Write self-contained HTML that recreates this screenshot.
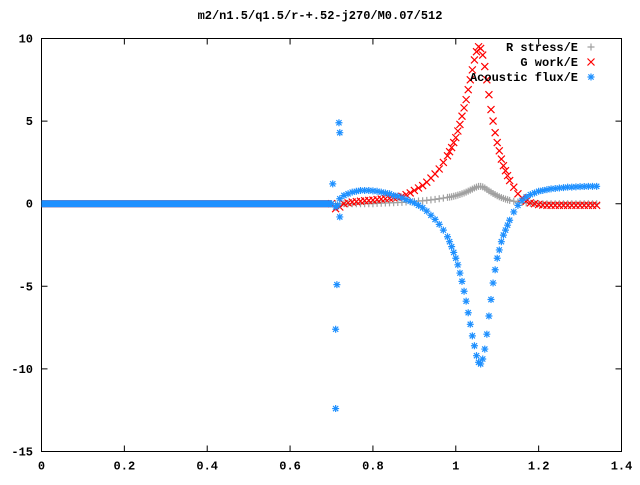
<!DOCTYPE html>
<html><head><meta charset="utf-8"><style>
body{margin:0;background:#fff}
svg text{font-family:"Liberation Mono",monospace;font-size:12px;font-weight:bold;fill:#000}
</style></head><body>
<svg id="chart" width="640" height="480" viewBox="0 0 640 480" xmlns="http://www.w3.org/2000/svg">
<rect width="640" height="480" fill="#fff"/>
<text x="320" y="19" text-anchor="middle">m2/n1.5/q1.5/r-+.52-j270/M0.07/512</text>
<g id="axes"></g>
<g id="marks"></g>
<g id="legend"></g>
</svg>
<script>
const xTicks=[0,0.2,0.4,0.6,0.8,1,1.2,1.4];
const xTickLabels=["0","0.2","0.4","0.6","0.8","1","1.2","1.4"];
const yTicks=[-15,-10,-5,0,5,10];
const yTickLabels=["-15","-10","-5","0","5","10"];
const seriesNames=["R stress/E","G work/E","Acoustic flux/E"];
const xsA=[0.70,0.71,0.72,0.73,0.74,0.75,0.76,0.77,0.78,0.79,0.80,0.81,0.82,0.83,0.84,0.85,0.86,0.87,0.88,0.89,0.90,0.91,0.92,0.93,0.94,0.95,0.96,0.97,0.98];
const xsB=[0.985,0.99,0.995,1.00,1.005,1.01,1.015,1.02,1.025,1.03,1.035,1.04,1.045,1.05,1.055,1.06,1.065,1.07,1.075,1.08,1.085,1.09,1.095,1.10,1.105,1.11,1.115,1.12,1.125,1.13];
const xsC=[1.14,1.15,1.16,1.17,1.18,1.19,1.20,1.21,1.22,1.23,1.24,1.25,1.26,1.27,1.28,1.29,1.30,1.31,1.32,1.33,1.34];
const stressA=[0,0,0,0,0,0,0,0,0,0,0,0.02,0.03,0.04,0.05,0.06,0.07,0.08,0.1,0.12,0.14,0.16,0.18,0.2,0.23,0.26,0.3,0.34,0.38];
const stressB=[0.4,0.42,0.45,0.48,0.52,0.56,0.6,0.65,0.7,0.76,0.82,0.88,0.95,1.0,1.05,1.05,1.02,0.95,0.87,0.78,0.7,0.62,0.55,0.48,0.42,0.37,0.32,0.28,0.24,0.2];
const stressC=[0.15,0.1,0.07,0.05,0.03,0.02,0.01,0,0,0,0,0,0,0,0,0,0,0,0,0,0];
const workA=[0,-0.3,-0.2,0,0.05,0.1,0.12,0.15,0.18,0.2,0.22,0.25,0.28,0.3,0.33,0.36,0.4,0.45,0.55,0.65,0.8,0.95,1.1,1.3,1.55,1.8,2.1,2.5,2.9];
const workB=[3.15,3.4,3.7,4.0,4.4,4.8,5.3,5.8,6.3,6.9,7.5,8.1,8.7,9.2,9.5,9.4,9.0,8.3,7.5,6.6,5.7,5.0,4.3,3.7,3.2,2.7,2.3,2.0,1.7,1.4];
const workC=[1.0,0.6,0.35,0.15,0.05,0,-0.05,-0.08,-0.1,-0.1,-0.1,-0.1,-0.1,-0.1,-0.1,-0.1,-0.1,-0.1,-0.1,-0.1,-0.1];
const fluxA=[0,-0.2,0.3,0.5,0.6,0.7,0.75,0.8,0.8,0.8,0.78,0.75,0.7,0.65,0.6,0.5,0.45,0.35,0.25,0.15,0.05,-0.1,-0.25,-0.45,-0.7,-0.95,-1.25,-1.6,-2.0];
const fluxB=[-2.3,-2.6,-2.95,-3.3,-3.7,-4.2,-4.7,-5.3,-5.9,-6.6,-7.3,-8.0,-8.6,-9.2,-9.6,-9.7,-9.4,-8.8,-7.9,-6.8,-5.8,-4.8,-4.0,-3.3,-2.8,-2.3,-1.9,-1.6,-1.3,-1.0];
const fluxC=[-0.5,-0.1,0.2,0.4,0.55,0.65,0.75,0.8,0.85,0.9,0.92,0.95,0.97,1.0,1.0,1.02,1.03,1.04,1.05,1.05,1.05];
const fluxOutX=[0.703,0.718,0.72,0.715,0.72,0.713,0.71,0.71];
const fluxOutY=[1.2,4.9,4.3,-0.1,-0.8,-4.9,-7.6,-12.4];
const flatX=[0,0.7];
const flatY=[0,0];

const NS="http://www.w3.org/2000/svg";
const L=41.5,R=621.5,T=38.5,B=451.5;
const xMin=0,xMax=1.4,yMin=-15,yMax=10;
function sx(v){return L+(v-xMin)/(xMax-xMin)*(R-L);}
function sy(v){return B-(v-yMin)/(yMax-yMin)*(B-T);}
function mk(tag,attrs,parent){const e=document.createElementNS(NS,tag);for(const k in attrs)e.setAttribute(k,attrs[k]);parent.appendChild(e);return e;}
const axes=document.getElementById('axes');
const marks=document.getElementById('marks');
const legend=document.getElementById('legend');

const frame=mk('rect',{x:L,y:T,width:R-L,height:B-T,fill:'none',stroke:'#000','stroke-width':1},axes);


xTicks.forEach((t,i)=>{
  const x=sx(t);
  const a=mk('path',{d:`M${x},${B}v-6M${x},${T}v6`,stroke:'#000','stroke-width':1},axes);
  
  
  const tx=mk('text',{x:x,y:B+18,'text-anchor':'middle'},axes);
  tx.textContent=xTickLabels[i];
  
  
});
yTicks.forEach((t,i)=>{
  const y=sy(t);
  const a=mk('path',{d:`M${L},${y}h6M${R},${y}h-6`,stroke:'#000','stroke-width':1},axes);
  
  
  const tx=mk('text',{x:33,y:y+4,'text-anchor':'end'},axes);
  tx.textContent=yTickLabels[i];
  
  
});

const colors=['#a0a0a0','#ff0000','#1e90ff'];
function marker(type,cx,cy,parent,color){
  const s=3.5;let d='';
  if(type===0)d=`M${cx-s},${cy}h${2*s}M${cx},${cy-s}v${2*s}`;
  else if(type===1)d=`M${cx-s},${cy-s}L${cx+s},${cy+s}M${cx-s},${cy+s}L${cx+s},${cy-s}`;
  else d=`M${cx-s},${cy}h${2*s}M${cx},${cy-s}v${2*s}M${cx-s*0.75},${cy-s*0.75}L${cx+s*0.75},${cy+s*0.75}M${cx-s*0.75},${cy+s*0.75}L${cx+s*0.75},${cy-s*0.75}`;
  return mk('path',{d:d,stroke:color,'stroke-width':1.2,fill:'none'},parent);
}
const xs=xsA.concat(xsB,xsC);
const allSeries=[stressA.concat(stressB,stressC),workA.concat(workB,workC),fluxA.concat(fluxB,fluxC)];
allSeries.forEach((vals,si)=>{
  const g=mk('g',{},marks);
  
  
  const fl=mk('line',{x1:sx(flatX[0]),y1:sy(flatY[0]),x2:sx(flatX[1]),y2:sy(flatY[1]),stroke:colors[si],'stroke-width':7},g);
  
  
  vals.forEach((v,i)=>{
    const m=marker(si,sx(xs[i]),sy(v),g,colors[si]);
    
    
  });
  if(si===2){
    fluxOutX.forEach((x,i)=>{
      const m=marker(2,sx(x),sy(fluxOutY[i]),g,colors[2]);
      
      
    });
  }
});
seriesNames.forEach((n,i)=>{
  const y=47+i*15;
  const t=mk('text',{x:578,y:y+4,'text-anchor':'end'},legend);
  t.textContent=n;
  
  
  const m=marker(i,591,y,legend,colors[i]);
  
  
});
</script>
</body></html>
